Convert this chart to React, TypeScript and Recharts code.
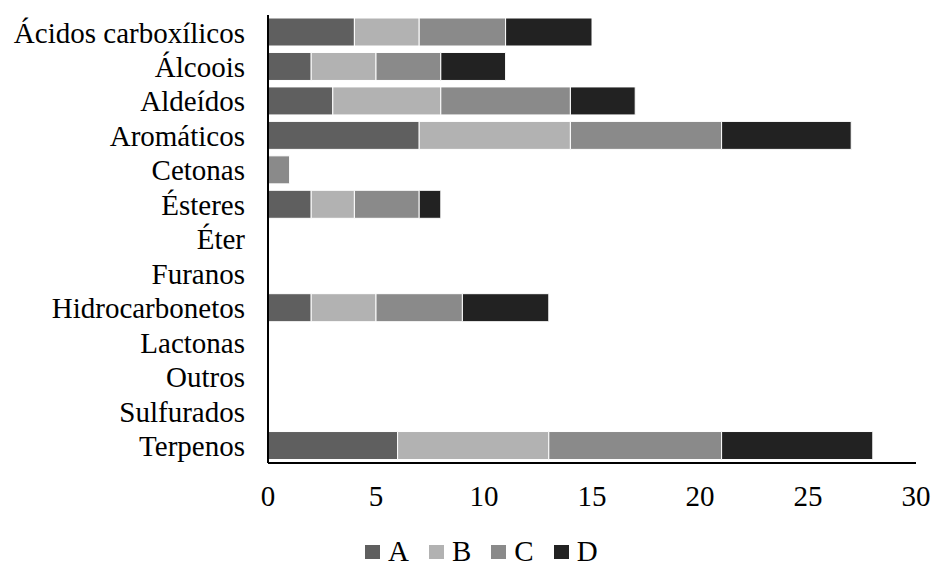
import React from "react";
import { BarChart, Bar, XAxis, YAxis, Legend } from "recharts";

const categories = [
  "Ácidos carboxílicos",
  "Álcoois",
  "Aldeídos",
  "Aromáticos",
  "Cetonas",
  "Ésteres",
  "Éter",
  "Furanos",
  "Hidrocarbonetos",
  "Lactonas",
  "Outros",
  "Sulfurados",
  "Terpenos",
];

const seriesA = [4, 2, 3, 7, 0, 2, 0, 0, 2, 0, 0, 0, 6];
const seriesB = [3, 3, 5, 7, 0, 2, 0, 0, 3, 0, 0, 0, 7];
const seriesC = [4, 3, 6, 7, 1, 3, 0, 0, 4, 0, 0, 0, 8];
const seriesD = [4, 3, 3, 6, 0, 1, 0, 0, 4, 0, 0, 0, 7];

const xTicks = [0, 5, 10, 15, 20, 25, 30];

const series = [
  { key: "A", color: "#5f5f5f" },
  { key: "B", color: "#b2b2b2" },
  { key: "C", color: "#8a8a8a" },
  { key: "D", color: "#222222" },
];

const data = categories.map((name, i) => ({
  name,
  A: seriesA[i],
  B: seriesB[i],
  C: seriesC[i],
  D: seriesD[i],
}));

const font = "Liberation Serif, Tinos, Times New Roman, DejaVu Serif, serif";

const LegendContent = () => (
  <div style={{ display: "flex", alignItems: "center", height: 23, fontFamily: font, fontSize: 29, lineHeight: "23px", color: "#000" }}>
    {series.map((s) => (
      <div key={s.key} style={{ display: "flex", alignItems: "center", marginRight: 20 }}>
        <span style={{ display: "inline-block", width: 15, height: 14, background: s.color, marginRight: 8 }} />
        <span>{s.key}</span>
      </div>
    ))}
  </div>
);

export default function App() {
  return (
    <div style={{ position: "absolute", left: 0, top: 0, background: "#fff", fontFamily: font }}>
      <BarChart
        width={933}
        height={563}
        data={data}
        layout="vertical"
        margin={{ top: 15, right: 17, left: 0, bottom: 5 }}
        barSize={28}
        style={{ fontFamily: font }}
      >
        <XAxis
          type="number"
          domain={[0, 30]}
          ticks={xTicks}
          interval={0}
          tickLine={false}
          tickSize={0}
          tickMargin={22}
          height={72}
          axisLine={{ stroke: "#000", strokeWidth: 2 }}
          tick={{ fill: "#000", fontSize: 29, fontFamily: font }}
        />
        <YAxis
          type="category"
          dataKey="name"
          width={268}
          interval={0}
          tickLine={false}
          tickSize={0}
          tickMargin={23}
          axisLine={{ stroke: "#000", strokeWidth: 2 }}
          tick={{ fill: "#000", fontSize: 29, fontFamily: font }}
        />
        <Legend
          verticalAlign="bottom"
          content={<LegendContent />}
          wrapperStyle={{ left: 365, top: 540, bottom: "auto", width: "auto" }}
        />
        {series.map((s) => (
          <Bar
            key={s.key}
            dataKey={s.key}
            stackId="a"
            fill={s.color}
            stroke="#ffffff"
            strokeWidth={1}
            isAnimationActive={false}
          />
        ))}
      </BarChart>
    </div>
  );
}
